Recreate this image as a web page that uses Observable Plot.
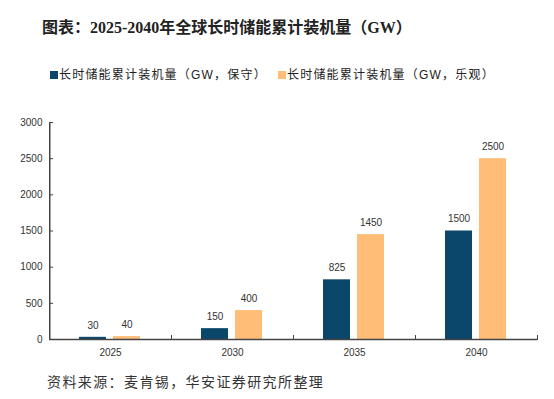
<!DOCTYPE html>
<html><head><meta charset="utf-8">
<script src="https://cdn.jsdelivr.net/npm/d3@7"></script>
<script src="https://cdn.jsdelivr.net/npm/@observablehq/plot@0.6"></script>
<style>
body{margin:0;background:#fff;width:554px;height:399px;position:relative;overflow:hidden;font-family:"Liberation Sans","Noto Sans CJK SC",sans-serif;}
#title{position:absolute;left:42px;top:14px;font-family:"Liberation Serif","Noto Sans CJK SC",serif;font-weight:bold;font-size:16px;color:#222;white-space:nowrap;}
#legend{position:absolute;left:50px;top:65px;font-size:12px;color:#222;white-space:nowrap;letter-spacing:1.2px;font-family:"Liberation Sans","Noto Sans CJK SC",sans-serif;}
#legend span.item{position:absolute;top:0;white-space:nowrap;}
#legend i{display:inline-block;width:8px;height:8px;margin-right:1px;vertical-align:0px;}
#chart{position:absolute;left:0;top:100px;}
#caption{position:absolute;left:47px;top:371px;font-size:14px;letter-spacing:1.4px;color:#333;white-space:nowrap;font-family:"Noto Sans CJK SC",sans-serif;}
</style></head>
<body>
<div id="title">图表：2025-2040年全球长时储能累计装机量（GW）</div>
<div id="legend"></div>
<div id="chart"></div>
<div id="caption">资料来源：麦肯锡，华安证券研究所整理</div>
<script>
const years = ["2025","2030","2035","2040"];
const seriesNames = ["长时储能累计装机量（GW，保守）","长时储能累计装机量（GW，乐观）"];
const conservative = [30,150,825,1500];
const optimistic = [40,400,1450,2500];
const colors = ["#0B466B","#FFBD78"];
const yTicks = [0,500,1000,1500,2000,2500,3000];

const rows = [];
years.forEach((y,i)=>{
  rows.push({year:y, series:seriesNames[0], value:conservative[i]});
  rows.push({year:y, series:seriesNames[1], value:optimistic[i]});
});

const leg = document.getElementById("legend");
const legX = [0, 228];
seriesNames.forEach((s,i)=>{
  const sp = document.createElement("span");
  sp.className="item"; sp.style.left = legX[i]+"px";
  sp.innerHTML = `<i style="background:${colors[i]}"></i>${s}`;
  leg.appendChild(sp);
});

const firstYear = years[0];
const yTickRows = yTicks.map(v=>({year:firstYear, v}));

const chart = Plot.plot({
  width:554, height:265,
  marginTop:22, marginBottom:26, marginLeft:49, marginRight:17,
  style:{fontFamily:"Liberation Sans, Arial, sans-serif", fontSize:"10px", color:"#333", background:"transparent"},
  fx:{domain:years, padding:0, label:null},
  x:{domain:seriesNames, paddingInner:0.2, paddingOuter:0.843, axis:null},
  y:{domain:[0,3000], axis:null},
  color:{domain:seriesNames, range:colors},
  marks:[
    Plot.barY(rows, {fx:"year", x:"series", y:"value", fill:"series"}),
    Plot.text(rows, {fx:"year", x:"series", y:"value", text:d=>String(d.value), dy:-12, fill:"#333", fontSize:10}),
    Plot.axisY({ticks:yTicks, tickFormat:"d", tickSize:0, tickPadding:7, label:null, fontSize:10}),
    Plot.axisFx({anchor:"bottom", tickSize:0, tickPadding:9, label:null, fontSize:10}),
    Plot.tickY(yTickRows, {fx:"year", y:"v", insetRight:118, stroke:"#444", strokeWidth:1}),
    Plot.rect([{year:firstYear}], {fx:"year", y1:()=>0, y2:()=>3000, insetRight:120.5, fill:"#444"}),
    Plot.ruleY([0], {stroke:"#444", strokeWidth:1.5}),
    Plot.frame({anchor:"right", insetTop:213, stroke:"#444"})
  ]
});
document.getElementById("chart").appendChild(chart);
</script>
</body></html>
